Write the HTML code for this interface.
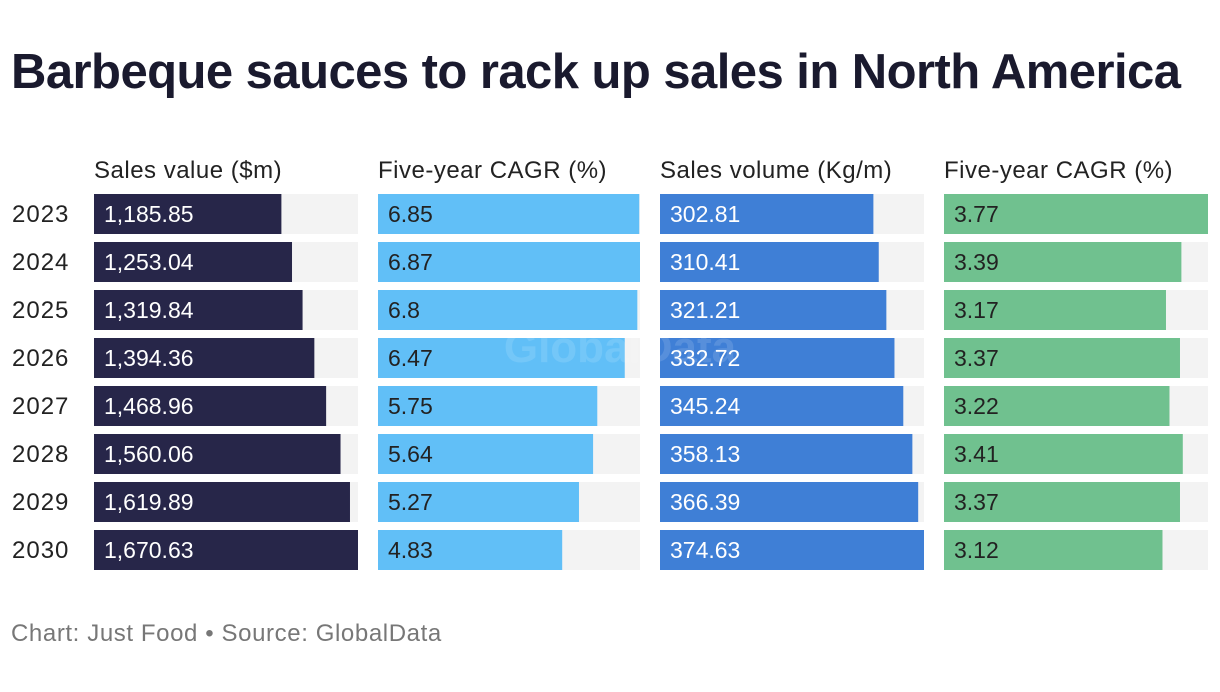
<!DOCTYPE html>
<html><head><meta charset="utf-8"><style>
body{margin:0;width:1220px;height:692px;background:#fff;font-family:"Liberation Sans",sans-serif;overflow:hidden;position:relative;color:#222}
#title{position:absolute;left:11px;top:44px;font-size:49px;font-weight:bold;color:#1a1a2e;letter-spacing:-0.55px;margin:0;white-space:nowrap}
#src{position:absolute;left:11px;top:620px;font-size:24px;letter-spacing:0.6px;color:#777}
</style></head><body>
<h1 id="title">Barbeque sauces to rack up sales in North America</h1>
<svg id="c" width="1220" height="692" style="position:absolute;left:0;top:0"></svg>
<div id="src">Chart: Just Food • Source: GlobalData</div>
<script>
const years=["2023","2024","2025","2026","2027","2028","2029","2030"];
const salesValue=[1185.85,1253.04,1319.84,1394.36,1468.96,1560.06,1619.89,1670.63];
const valueLabels=["1,185.85","1,253.04","1,319.84","1,394.36","1,468.96","1,560.06","1,619.89","1,670.63"];
const cagrValue=[6.85,6.87,6.8,6.47,5.75,5.64,5.27,4.83];
const salesVolume=[302.81,310.41,321.21,332.72,345.24,358.13,366.39,374.63];
const cagrVolume=[3.77,3.39,3.17,3.37,3.22,3.41,3.37,3.12];
const headers=["Sales value ($m)","Five-year CAGR (%)","Sales volume (Kg/m)","Five-year CAGR (%)"];
const cols=[
 {x:94,w:264,data:salesValue,labels:valueLabels,color:"#272649",tc:"#fff"},
 {x:378,w:262,data:cagrValue,labels:cagrValue.map(String),color:"#61bff7",tc:"#222"},
 {x:660,w:264,data:salesVolume,labels:salesVolume.map(String),color:"#3f7fd6",tc:"#fff"},
 {x:944,w:264,data:cagrVolume,labels:cagrVolume.map(String),color:"#70c18f",tc:"#222"}];
const svg=document.getElementById('c');const NS="http://www.w3.org/2000/svg";
function mk(t,a,txt){const e=document.createElementNS(NS,t);for(const k in a)e.setAttribute(k,a[k]);if(txt!==undefined)e.textContent=txt;svg.appendChild(e);return e;}
const rowY=i=>194+i*48;
years.forEach((y,i)=>{
 const t=mk('text',{x:12,y:rowY(i)+28,'font-size':24,'letter-spacing':1,fill:'#222'},y);
 
 
});
cols.forEach((c,ci)=>{
 const h=mk('text',{x:c.x,y:178,'font-size':24,'letter-spacing':0.5,fill:'#222'},headers[ci]);
 
 
 const mx=Math.max(...c.data);
 const sc=v=>v/mx*c.w;
 c.data.forEach((v,i)=>{
  const bg=mk('rect',{x:c.x,y:rowY(i),width:c.w,height:40,fill:'#f3f3f3'});
  
  
  const r=mk('rect',{x:c.x,y:rowY(i),width:sc(v),height:40,fill:c.color});
  
  
  const l=mk('text',{x:c.x+10,y:rowY(i)+28,'font-size':23,fill:c.tc},c.labels[i]);
  
  
 });
});
const wm=mk('text',{x:620,y:362,'text-anchor':'middle','font-size':44,'font-weight':'bold',fill:'#fff',opacity:0.12,'font-family':'Liberation Sans'},'GlobalData');


</script>
</body></html>
